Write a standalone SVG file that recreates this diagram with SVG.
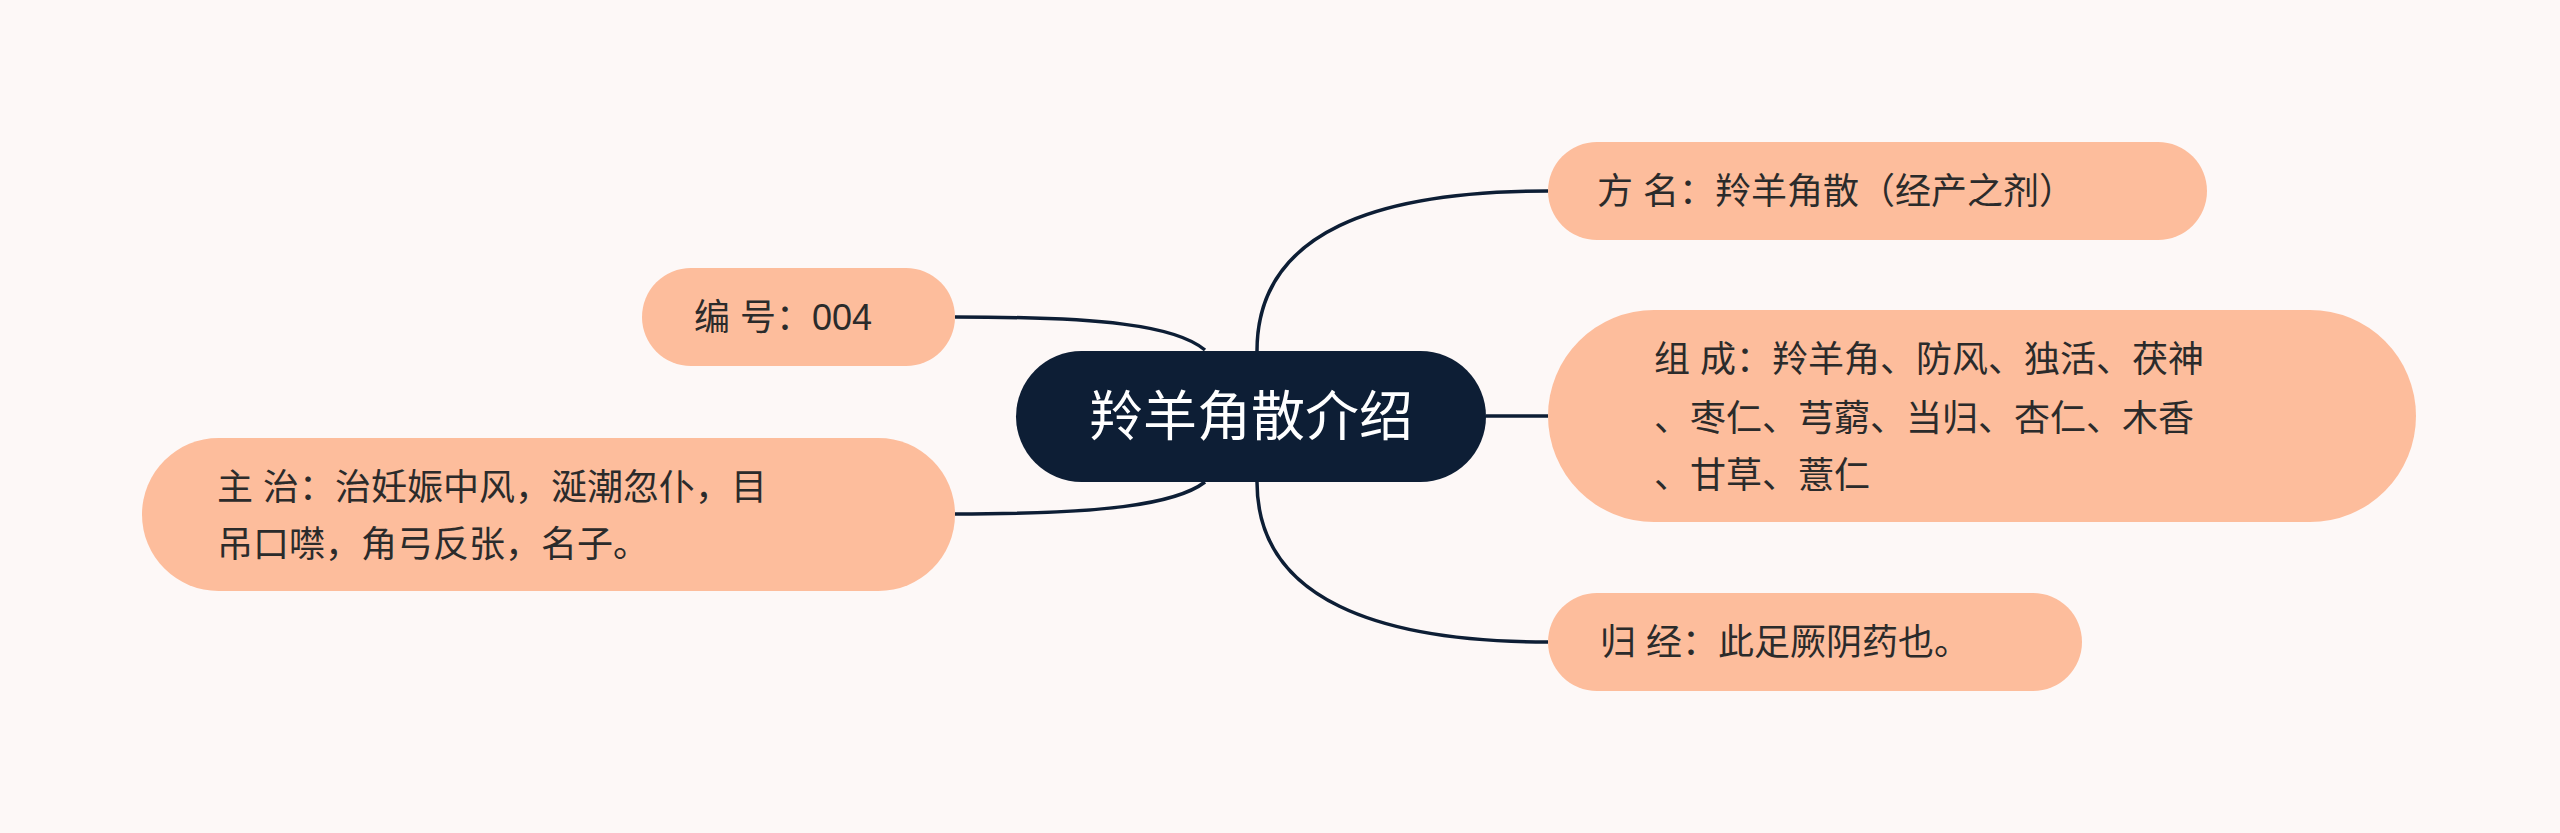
<svg xmlns="http://www.w3.org/2000/svg" width="2560" height="833" viewBox="0 0 2560 833">
<style>
.n{fill:#fdbd9c}
.t{font-family:"Liberation Sans","Noto Sans CJK SC",sans-serif;font-size:36px;fill:#2b2b2b;dominant-baseline:central}
.c{fill:none;stroke:#0d1e35;stroke-width:3.5}
</style>
<rect width="2560" height="833" fill="#fdf8f7"/>
<g id="connectors">
<path class="c" d="M1257 351 C1257 230 1380 191 1548 191"/>
<path class="c" d="M1486 416 L1548 416"/>
<path class="c" d="M1257 482 C1257 600 1380 642 1548 642"/>
<path class="c" d="M955 317 C1100 317 1175 325 1205 350"/>
<path class="c" d="M955 514 C1100 514 1175 505 1205 482"/>
</g>
<g id="center">
<rect x="1016" y="351" width="470" height="131" rx="65.5" fill="#0d1e35"/>
<text x="1251" y="417" text-anchor="middle" style="font-family:'Liberation Sans','Noto Sans CJK SC',sans-serif;font-size:54px;fill:#fff;dominant-baseline:central">羚羊角散介绍</text>
</g>
<g id="fangming">
<rect class="n" x="1548" y="142" width="659" height="98" rx="49"/>
<text class="t" x="1597" y="191">方 名：羚羊角散（经产之剂）</text>
</g>
<g id="zucheng">
<rect class="n" x="1548" y="310" width="868" height="212" rx="106"/>
<text class="t" x="1654" y="359">组 成：羚羊角、防风、独活、茯神</text>
<text class="t" x="1654" y="418">、枣仁、芎藭、当归、杏仁、木香</text>
<text class="t" x="1654" y="475">、甘草、薏仁</text>
</g>
<g id="guijing">
<rect class="n" x="1548" y="593" width="534" height="98" rx="49"/>
<text class="t" x="1600" y="642">归 经：此足厥阴药也。</text>
</g>
<g id="bianhao">
<rect class="n" x="642" y="268" width="313" height="98" rx="49"/>
<text class="t" x="694" y="317">编 号：004</text>
</g>
<g id="zhuzhi">
<rect class="n" x="142" y="438" width="813" height="153" rx="76.5"/>
<text class="t" x="217" y="487">主 治：治妊娠中风，涎潮忽仆，目</text>
<text class="t" x="217" y="544">吊口噤，角弓反张，名子。</text>
</g>
</svg>
